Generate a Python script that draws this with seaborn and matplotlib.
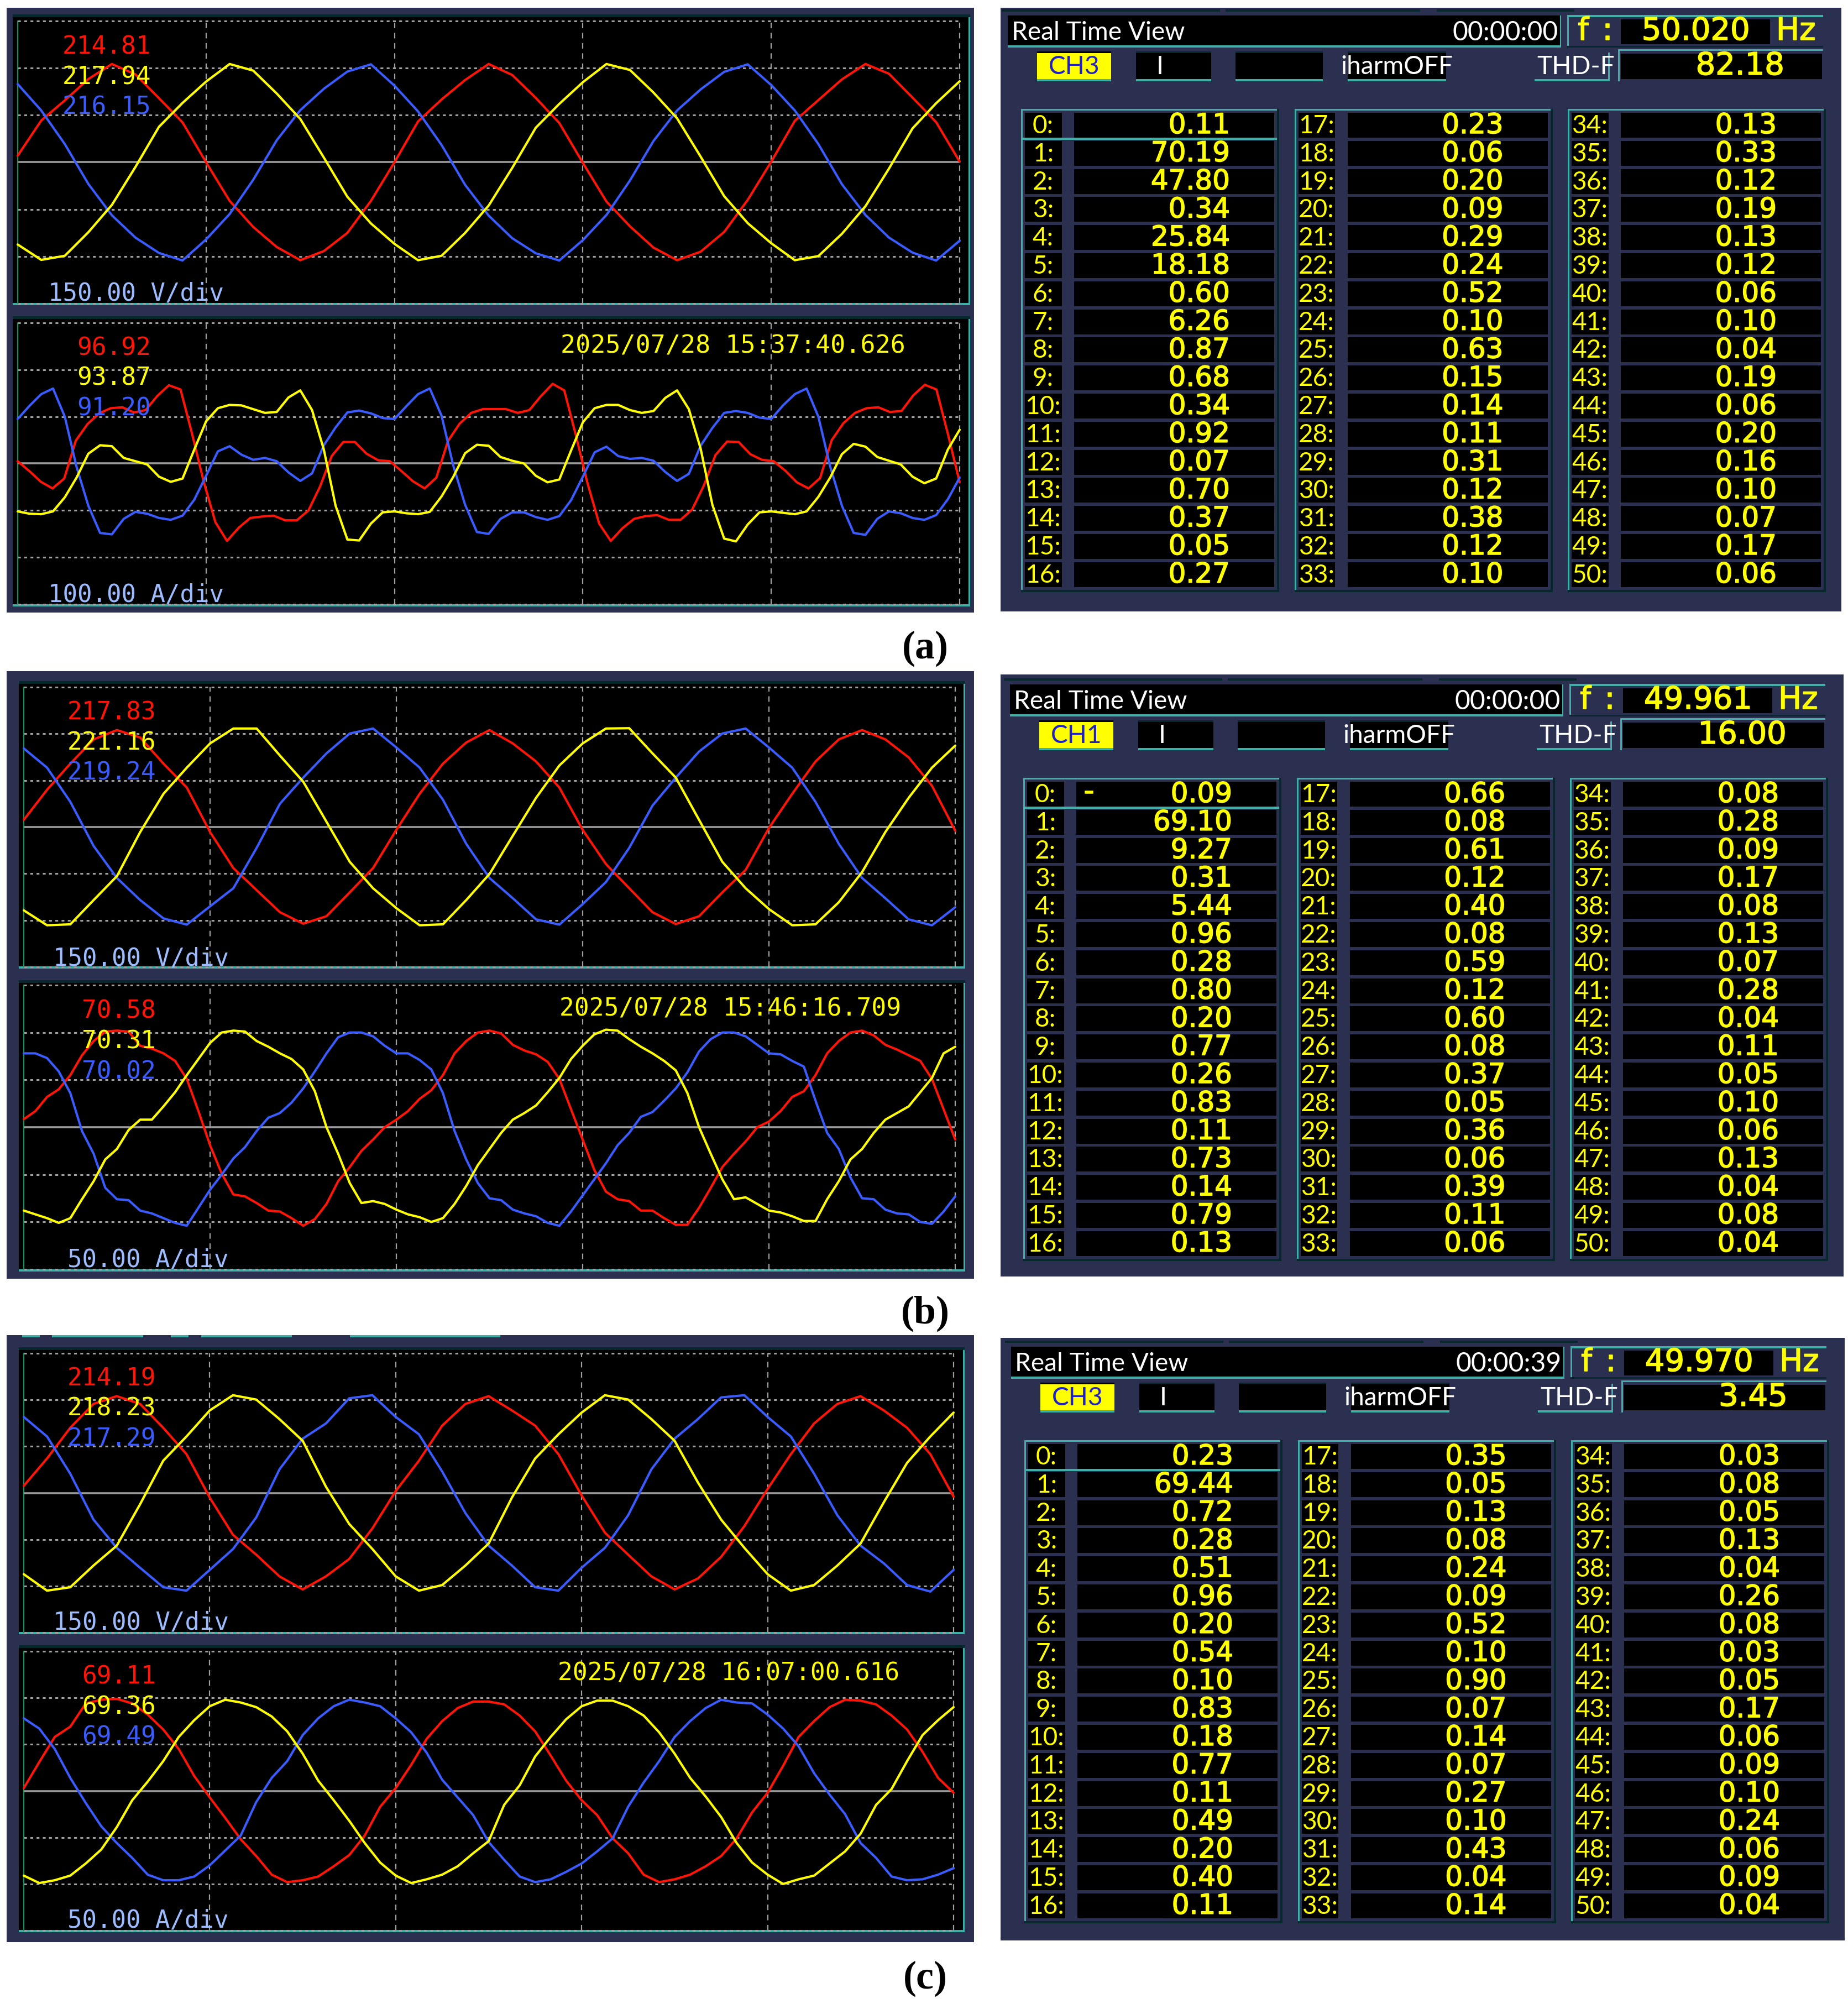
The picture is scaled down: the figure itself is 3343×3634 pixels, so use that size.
import matplotlib
matplotlib.use('Agg')
import matplotlib.pyplot as plt
import matplotlib.patheffects as pe
import seaborn as sns
import numpy as np
from matplotlib.patches import Rectangle

# ---- waveforms (volts / amps) ----
va_red = [21,133,197,265,313,280,204,127,0,-123,-206,-270,-312,-283,-225,-123,0,130,200,262,313,278,205,125,-2,-125,-204,-272,-312,-285,-222,-120,2,132,198,264,313,282,206,128,2]
va_yel = [-262,-311,-298,-223,-136,-15,113,189,257,313,292,219,138,15,-110,-195,-260,-312,-298,-225,-138,-18,110,186,255,313,294,222,140,18,-108,-194,-258,-312,-299,-228,-140,-20,108,188,258]
va_blu = [249,165,58,-69,-169,-240,-289,-313,-246,-165,-56,70,166,234,289,312,244,162,55,-72,-170,-242,-290,-313,-248,-168,-58,68,165,232,288,312,246,165,58,-70,-168,-240,-288,-313,-250]

ia_red = [5,-16,-39,-53,-32,49,84,107,118,120,109,114,144,167,158,63,-39,-125,-165,-137,-116,-113,-111,-121,-121,-100,-49,16,46,46,21,7,
          5,-16,-38,-53,-30,48,85,108,116,116,116,108,114,144,170,156,60,-42,-128,-165,-138,-118,-112,-110,-120,-120,-98,-47,18,47,46,20,8,
          5,-15,-40,-53,-31,50,86,108,118,120,110,112,145,168,158,62,-40]
ia_yel = [-102,-107,-108,-102,-72,-30,21,39,37,12,5,-2,-28,-39,-32,30,90,118,125,124,116,108,110,141,156,114,30,-90,-162,-164,-128,-104,
          -102,-106,-108,-103,-70,-28,22,40,38,14,6,0,-26,-40,-34,28,88,118,125,125,114,108,112,140,156,116,32,-88,-160,-166,-130,-104,
          -102,-105,-108,-102,-71,-30,20,42,36,14,6,-2,-28,-42,-32,30,72]
ia_blu = [95,123,148,160,100,-7,-90,-148,-151,-118,-103,-107,-116,-120,-111,-77,-26,26,37,19,8,12,5,-19,-37,-21,39,77,109,113,107,97,
          95,122,148,160,102,-5,-88,-146,-150,-118,-104,-104,-114,-120,-112,-78,-28,24,36,16,10,12,6,-18,-37,-22,38,76,108,112,108,98,
          95,124,148,160,100,-6,-90,-148,-152,-118,-102,-106,-116,-120,-110,-76,-30]

vb_red = [23,120,204,282,312,288,204,127,-16,-132,-203,-274,-311,-287,-210,-132,-9,107,204,272,312,269,211,127,-9,-119,-197,-274,-312,-287,-210,-138,-3,107,211,282,312,282,224,133,-12]
vb_yel = [-268,-316,-313,-235,-158,-16,107,191,269,317,317,230,146,17,-112,-197,-261,-316,-313,-235,-151,-28,94,198,269,317,318,237,159,23,-112,-197,-264,-316,-313,-242,-145,-16,94,191,262]
vb_blu = [253,191,81,-61,-164,-235,-294,-314,-255,-197,-67,75,159,237,301,317,256,191,88,-54,-164,-229,-297,-314,-248,-177,-67,69,159,243,301,317,256,191,81,-54,-164,-229,-297,-316,-258]

ib_red = [8.5,17,32,40,55,76,91,101,102,101,86,83,78,70,51,17,-19,-49,-71,-73,-80,-88,-89,-96,-104,-97,-81,-57,-42,-25,-13,0,
          8,17,30,39,55,78,91,100,102,99,87,81,77,69,51,19,-13,-45,-68,-76,-78,-88,-88,-96,-103,-103,-85,-64,-42,-28,-15,0,
          6,17,32,38,55,78,91,100,102,97,87,82,76,70,51,19,-13]
ib_yel = [-88,-92,-96,-101,-96,-76,-57,-34,-23,-3,8,8,22,37,55,72,89,100,102,101,91,85,78,72,61,38,0,-28,-59,-80,-78,-81,
          -87,-92,-95,-100,-96,-81,-62,-40,-23,-6,8,15,23,37,52,72,86,98,103,102,93,85,78,70,60,36,0,-28,-55,-76,-74,-81,
          -88,-90,-94,-99,-99,-76,-57,-34,-23,-6,8,15,22,37,52,78,85]
ib_blu = [78,78,73,59,36,-4,-28,-64,-76,-77,-88,-91,-96,-101,-104,-85,-66,-50,-33,-21,-4,10,15,26,41,59,78,95,100,100,96,86,
          78,78,71,61,36,-4,-34,-59,-75,-77,-87,-91,-94,-101,-104,-89,-72,-55,-38,-19,-6,11,16,28,41,58,80,93,100,100,96,87,
          78,77,70,64,28,-6,-23,-53,-75,-76,-87,-91,-92,-100,-102,-89,-73]

vc_red = [23,111,210,287,312,287,210,125,-15,-135,-199,-269,-311,-269,-213,-114,6,104,217,287,312,266,217,125,-8,-128,-199,-269,-311,-276,-206,-107,13,125,224,287,312,266,210,125,-12]
vc_yel = [-262,-315,-304,-234,-170,-37,104,182,266,315,301,238,168,20,-100,-181,-269,-315,-297,-234,-163,-15,111,189,259,315,301,238,168,34,-86,-177,-262,-315,-297,-234,-163,-30,97,182,259]
vc_blu = [245,182,62,-86,-177,-241,-304,-315,-248,-181,-79,76,175,224,305,315,245,189,69,-65,-170,-234,-304,-315,-241,-177,-72,76,175,238,308,315,245,182,62,-72,-170,-227,-297,-318,-248]

ic_red = [3,31,58,69,94,98,99,94,82,66,45,16,-7,-29,-52,-70,-90,-98,-96,-92,-81,-69,-48,-17,3,28,56,75,89,96,96,93,81,64,38,11,-10,-26,-51,-67,-90,-98,-95,-90,-81,-70,-51,-23,-2,27,58,75,90,98,97,93,81,66,42,14,-2]
ic_yel = [-91,-99,-96,-91,-78,-63,-39,-10,10,32,58,76,91,98,95,90,80,64,40,11,-10,-32,-56,-77,-91,-99,-95,-90,-81,-67,-54,-15,6,37,58,77,91,97,97,91,81,63,40,14,-6,-28,-56,-77,-90,-100,-95,-91,-78,-65,-46,-15,2,32,60,76,90]
ic_blu = [78,67,45,14,-13,-38,-56,-72,-90,-96,-96,-92,-80,-64,-48,-12,14,32,60,78,91,98,95,91,78,63,41,12,-7,-26,-55,-74,-92,-98,-95,-87,-78,-65,-51,-17,9,32,58,75,89,98,95,94,82,67,48,19,-4,-25,-56,-72,-92,-96,-95,-90,-83]

# ---- readouts ----
a_c1 = [0.11,70.19,47.80,0.34,25.84,18.18,0.60,6.26,0.87,0.68,0.34,0.92,0.07,0.70,0.37,0.05,0.27]
a_c2 = [0.23,0.06,0.20,0.09,0.29,0.24,0.52,0.10,0.63,0.15,0.14,0.11,0.31,0.12,0.38,0.12,0.10]
a_c3 = [0.13,0.33,0.12,0.19,0.13,0.12,0.06,0.10,0.04,0.19,0.06,0.20,0.16,0.10,0.07,0.17,0.06]
b_c1 = [0.09,69.10,9.27,0.31,5.44,0.96,0.28,0.80,0.20,0.77,0.26,0.83,0.11,0.73,0.14,0.79,0.13]
b_c2 = [0.66,0.08,0.61,0.12,0.40,0.08,0.59,0.12,0.60,0.08,0.37,0.05,0.36,0.06,0.39,0.11,0.06]
b_c3 = [0.08,0.28,0.09,0.17,0.08,0.13,0.07,0.28,0.04,0.11,0.05,0.10,0.06,0.13,0.04,0.08,0.04]
c_c1 = [0.23,69.44,0.72,0.28,0.51,0.96,0.20,0.54,0.10,0.83,0.18,0.77,0.11,0.49,0.20,0.40,0.11]
c_c2 = [0.35,0.05,0.13,0.08,0.24,0.09,0.52,0.10,0.90,0.07,0.14,0.07,0.27,0.10,0.43,0.04,0.14]
c_c3 = [0.03,0.08,0.05,0.13,0.04,0.26,0.08,0.03,0.05,0.17,0.06,0.09,0.10,0.24,0.06,0.09,0.04]

NAVY = '#2c3050'
TEAL = '#3eb0a8'
DARK = '#06282c'
RED = '#ff1408'
YEL = '#ffff00'
BLU = '#3a5cff'
PALE = '#9cbcff'
GREY = '#a0a0a0'
MONO = ['DejaVu Sans Mono']
WIDE = ['DejaVu Sans']
NARROW = ['Lato']

W, H = 3343, 3634
sns.set_theme(style='white')
fig = plt.figure(figsize=(W / 100, H / 100), dpi=100, facecolor='white')

bg = fig.add_axes([0, 0, 1, 1], zorder=0)
fg = fig.add_axes([0, 0, 1, 1], zorder=5)
for a in (bg, fg):
    a.set_xlim(0, W)
    a.set_ylim(H, 0)
    a.axis('off')
fg.patch.set_alpha(0)


def box(x0, y0, x1, y1, color, ax=bg, z=1):
    ax.add_patch(Rectangle((x0, y0), x1 - x0, y1 - y0, facecolor=color, edgecolor='none', zorder=z))


def txt(x, y, s, color, px, family=MONO, ha='center', weight='normal', ax=fg):
    # va=center sits a bit high because of the descent
    return ax.text(x, y + 4, s, color=color, fontsize=px * 0.72, family=family, ha=ha, va='center', weight=weight)


def lcd(x, y, s, px=50, ha='center'):
    t = txt(x, y, s, YEL, px, WIDE, ha=ha)
    t.set_path_effects([pe.withStroke(linewidth=1.1, foreground=YEL)])


def scope(x0, x1, ytop, ybot, per_div, red, yel, blu):
    ax = fig.add_axes([x0 / W, 1 - ybot / H, (x1 - x0) / W, (ybot - ytop) / H], zorder=2)
    ax.patch.set_alpha(0)
    ax.axis('off')
    ax.set_xlim(0, 50)
    ax.set_ylim(-3 * per_div, 3 * per_div)
    for n in (-3, -2, -1, 1, 2, 3):
        ax.axhline(n * per_div, color=GREY, lw=2.2, ls=(0, (1.7, 2.0)), clip_on=False, dash_capstyle='butt')
    for t in (10, 20, 30, 40, 50):
        ax.axvline(t, color=GREY, lw=1.6, ls=(0, (4.5, 3.8)), clip_on=False)
    ax.axvline(0, color='#1f8a5a', lw=1.6, clip_on=False)
    ax.axhline(0, color='#9a9a9a', lw=2.6)
    for vals, col in ((red, RED), (blu, BLU), (yel, YEL)):
        t = np.linspace(0, 50, len(vals))
        sns.lineplot(x=t, y=vals, color=col, lw=3, ax=ax, estimator=None, legend=False, clip_on=False)
    ax.set_xlabel('')
    ax.set_ylabel('')


def screen(x0, x1, y0, y1):
    box(x0, y0, x1, y1, 'black')
    box(x0, y0, x1, y0 + 5, DARK, z=2)
    box(x0, y1 - 4, x1, y1, TEAL, z=2)
    box(x1 - 3, y0 + 5, x1, y1, TEAL, z=2)


def left_panel(py0, py1, gx0, gx1, scr_x, s1, s2, v_y, i_y, v_data, i_data, v_lab, i_lab, stamp, v_div, i_div):
    box(12, py0, 1762, py1, NAVY, z=0)
    screen(scr_x[0], scr_x[1], s1[0], s1[1])
    screen(scr_x[0], scr_x[1], s2[0], s2[1])
    scope(gx0, gx1, v_y[0], v_y[1], 150, *v_data)
    scope(gx0, gx1, i_y[0], i_y[1], i_div[0], *i_data)
    for (s, y), c in zip(v_lab[1], (RED, YEL, BLU)):
        txt(v_lab[0], y, s, c, 44.5, ha='right')
    for (s, y), c in zip(i_lab[1], (RED, YEL, BLU)):
        txt(i_lab[0], y, s, c, 44.5, ha='right')
    txt(v_div[0], v_div[1], '150.00 V/div', PALE, 44, ha='left')
    txt(i_div[1], i_div[2], i_div[3], PALE, 44, ha='left')
    txt(stamp[0], stamp[1], stamp[2], YEL, stamp[3], ha='left')


def right_panel(py0, py1, dx, dy, clock, ch, freq, thd, c1, c2, c3, neg_first=False):
    box(1810, py0, 3331 + dx, py1, NAVY, z=0)
    X = lambda v: 1790 + (v - 1790) * 0.989 + dx
    Y = lambda v: v + dy
    # stubs of the window above
    for a, b in ((1812, 2212), (2222, 2578), (2608, 2860)):
        box(X(a), Y(17), X(b), Y(21), DARK)
    # title bar
    box(X(1823), Y(28), X(2835), Y(82), 'black')
    box(X(1823), Y(82), X(2835), Y(86), TEAL)
    box(X(2833), Y(28), X(2836), Y(86), TEAL)
    txt(X(1830), Y(55), 'Real Time View', 'white', 46, NARROW, ha='left')
    txt(X(2830), Y(55), clock, 'white', 48, NARROW, ha='right')
    # frequency
    box(X(2847), Y(27), X(3315), Y(31), TEAL)
    box(X(2847), Y(27), X(2850), Y(86), TEAL)
    box(X(2847), Y(83), X(3315), Y(86), DARK)
    box(X(2945), Y(35), X(3218), Y(80), 'black')
    lcd(X(2876), Y(53), 'f', 56)
    lcd(X(2920), Y(53), ':', 56)
    lcd(X(3082), Y(53), freq, 56)
    lcd(X(3265), Y(53), 'Hz', 56)
    # buttons
    for a, b, col in ((1877, 2012, YEL), (2058, 2195, 'black'), (2240, 2400, 'black'), (2445, 2625, 'black')):
        box(X(a), Y(95), X(b), Y(143), col)
        box(X(a), Y(143), X(b), Y(147), TEAL)
        box(X(a), Y(93), X(b), Y(96), DARK if col == 'black' else 'black')
    txt(X(1945), Y(117), ch, '#2020c8', 46, NARROW)
    txt(X(2102), Y(117), 'I', 'white', 46, NARROW)
    txt(X(2535), Y(117), 'iharmOFF', 'white', 46, NARROW)
    box(X(2787), Y(143), X(2923), Y(147), TEAL)
    box(X(2921), Y(95), X(2924), Y(147), TEAL)
    txt(X(2862), Y(117), 'THD-F', 'white', 46, NARROW)
    box(X(2943), Y(89), X(3315), Y(92), TEAL)
    box(X(2940), Y(89), X(2943), Y(147), TEAL)
    box(X(2945), Y(97), X(3313), Y(143), 'black')
    lcd(X(3262) - 18, Y(116), thd, 56, ha='right')
    # harmonic columns
    n = 0
    for gx, col in zip((1848, 2348, 2848), (c1, c2, c3)):
        box(X(gx), Y(197), X(gx + 468), Y(200), TEAL)
        box(X(gx), Y(197), X(gx + 3), Y(1070), TEAL)
        box(X(gx + 468), Y(197), X(gx + 472), Y(1071), DARK)
        box(X(gx), Y(1067), X(gx + 472), Y(1071), DARK)
        for i, v in enumerate(col):
            top = 204 + 50.8 * i
            box(X(gx + 7), Y(top), X(gx + 74), Y(top + 45), 'black')
            box(X(gx + 97), Y(top), X(gx + 463), Y(top + 45), 'black')
            txt(X(gx + 40), Y(top + 20), f'{n}:', YEL, 46, NARROW)
            lcd(X(gx + 412) - 30, Y(top + 19), f'{v:.2f}', 50, ha='right')
            n += 1
    box(X(1848), Y(249), X(2316), Y(253), TEAL)
    if neg_first:
        lcd(X(1968), Y(219), '-', 50)


left_panel(14, 1108, 32, 1736, (23, 1755), (26, 552), (572, 1097), (38, 549), (584, 1093),
           (va_red, va_yel, va_blu), (ia_red, ia_yel, ia_blu),
           (273, [('214.81', 81), ('217.94', 136), ('216.15', 190)]),
           (273, [('96.92', 626), ('93.87', 680), ('91.20', 735)]),
           (1014, 622, '2025/07/28 15:37:40.626', 45), (87, 527), (100, 87, 1072, '100.00 A/div'))
left_panel(1214, 2313, 43, 1728, (34, 1746), (1232, 1752), (1773, 2300), (1243, 1749), (1782, 2296),
           (vb_red, vb_yel, vb_blu), (ib_red, ib_yel, ib_blu),
           (282, [('217.83', 1285), ('221.16', 1340), ('219.24', 1394)]),
           (282, [('70.58', 1825), ('70.31', 1880), ('70.02', 1935)]),
           (1012, 1821, '2025/07/28 15:46:16.709', 44.6), (96, 1730), (50, 122, 2275, '50.00 A/div'))
left_panel(2415, 3513, 43, 1725, (34, 1745), (2437, 2956), (2976, 3495), (2448, 2953), (2987, 3492),
           (vc_red, vc_yel, vc_blu), (ic_red, ic_yel, ic_blu),
           (282, [('214.19', 2490), ('218.23', 2544), ('217.29', 2599)]),
           (282, [('69.11', 3029), ('69.36', 3084), ('69.49', 3138)]),
           (1009, 3023, '2025/07/28 16:07:00.616', 44.6), (96, 2931), (50, 122, 3470, '50.00 A/div'))
# teal remains of the window above panel (c)
for a, b in ((40, 72), (94, 259), (309, 341), (364, 528), (633, 905)):
    box(a, 2415, b, 2419, TEAL)

right_panel(14, 1106, 0, 0, '00:00:00', 'CH3', '50.020', '82.18', a_c1, a_c2, a_c3)
right_panel(1220, 2309, 4, 1210, '00:00:00', 'CH1', '49.961', '16.00', b_c1, b_c2, b_c3, neg_first=True)
right_panel(2420, 3510, 6, 2408, '00:00:39', 'CH3', '49.970', '3.45', c_c1, c_c2, c_c3)

for s, y in (('(a)', 1169), ('(b)', 2372), ('(c)', 3575)):
    txt(1674, y, s, 'black', 72, ['Liberation Serif'], weight='bold')

fig.savefig('out.png', dpi=100, facecolor='white')
